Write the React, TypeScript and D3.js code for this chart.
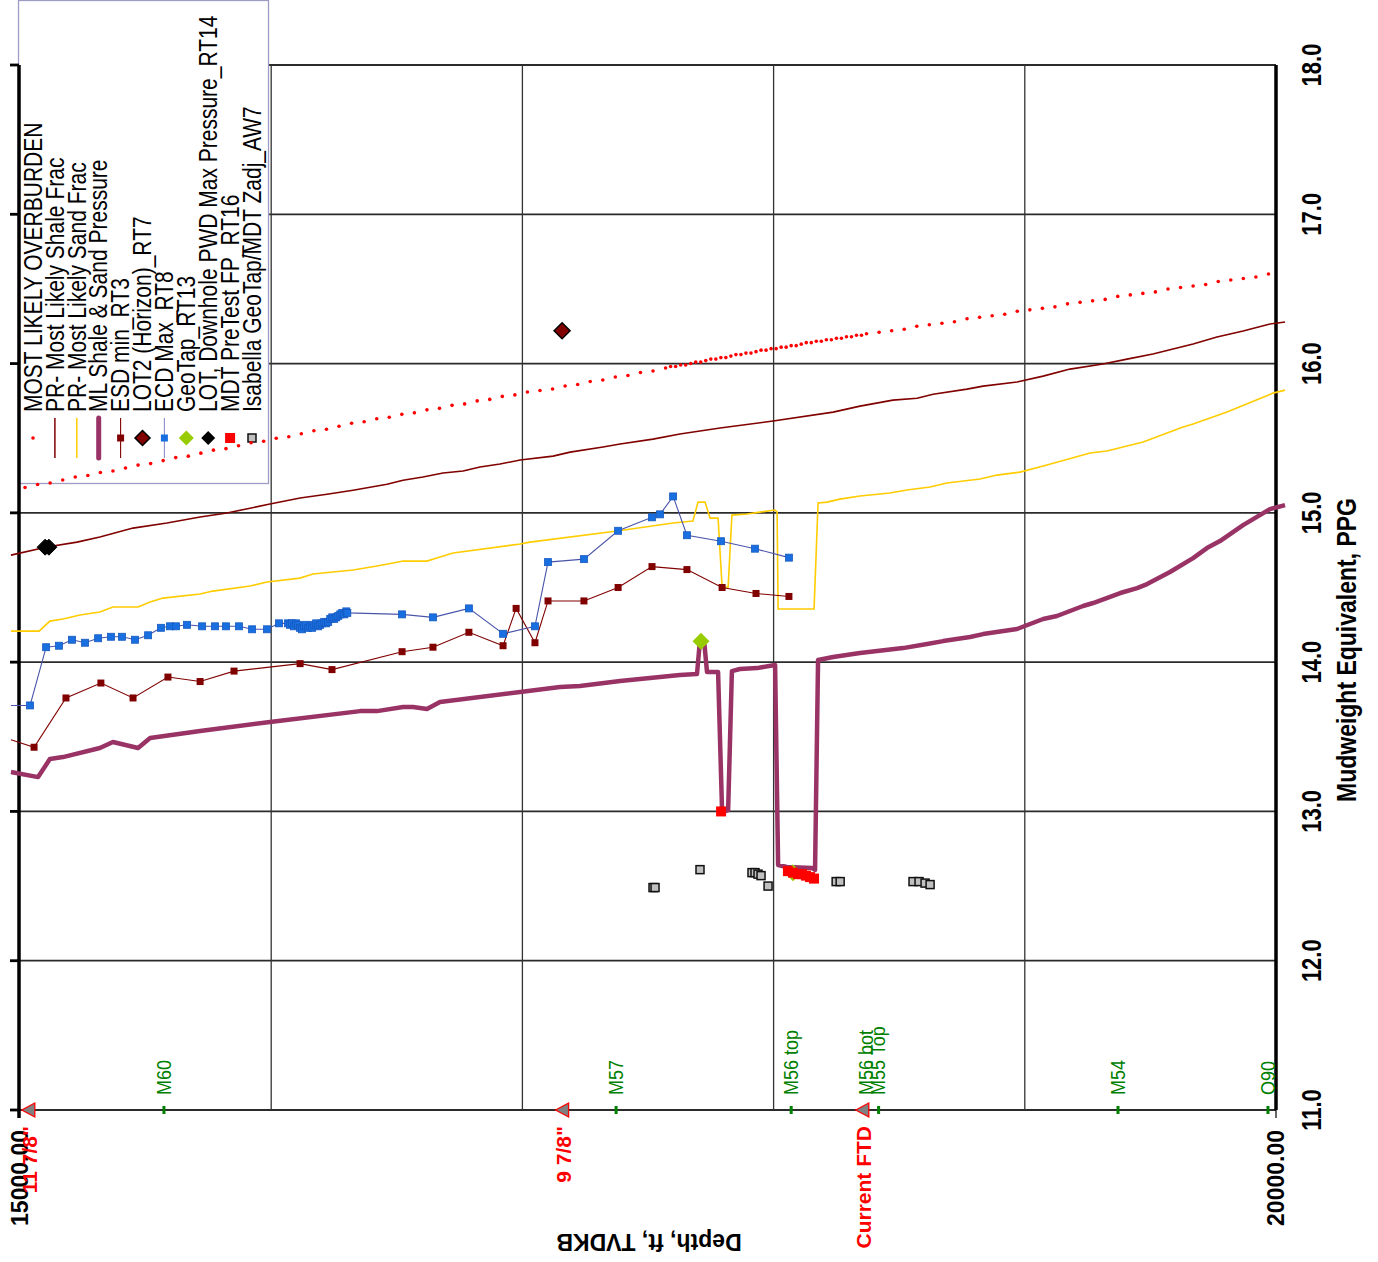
import React, { useEffect, useRef } from "react";
import * as d3 from "d3";

type Pt = [number, number]; // [depth ft TVDKB, mudweight ppg]

const ppgTicks = [11, 12, 13, 14, 15, 16, 17, 18];
const depthGrid = [15000, 16000, 17000, 18000, 19000, 20000];
const depthTickLabels = [15000, 20000];

const legendLabels = [
	"MOST LIKELY OVERBURDEN",
	"PR- Most Likely Shale Frac",
	"PR- Most Likely Sand Frac",
	"ML Shale & Sand Pressure",
	"ESD min_RT3",
	"LOT2 (Horizon)_RT7",
	"ECD Max_RT8",
	"GeoTap_RT13",
	"LOT, Downhole PWD Max Pressure_RT14",
	"MDT PreTest FP_RT16",
	"Isabella GeoTap/MDT Zadj_AW7",
];

const formationTops: [string, number][] = [
	["M60", 15573],
	["M57", 17373],
	["M56 top", 18070],
	["M56 bot", 18368],
	["M55 Top", 18418],
	["M54", 19371],
	["O90", 19968],
];

const casingPoints: [string, number][] = [
	['11 7/8"', 15035],
	['9 7/8"', 17160],
	["Current FTD", 18355],
];

const overburden: Pt[] = [
	[15020, 15.17], [15070, 15.19], [15120, 15.2], [15170, 15.22], [15220, 15.24], [15270, 15.25],
	[15320, 15.27], [15370, 15.28], [15420, 15.3], [15470, 15.32], [15520, 15.33], [15570, 15.35],
	[15620, 15.37], [15670, 15.38], [15720, 15.4], [15770, 15.42], [15820, 15.43], [15870, 15.45],
	[15920, 15.47], [15970, 15.48], [16020, 15.5], [16070, 15.51], [16120, 15.53], [16170, 15.55],
	[16220, 15.56], [16270, 15.58], [16320, 15.6], [16370, 15.61], [16420, 15.63], [16470, 15.64],
	[16520, 15.66], [16570, 15.67], [16620, 15.69], [16670, 15.7], [16720, 15.72], [16770, 15.73],
	[16820, 15.75], [16870, 15.76], [16920, 15.78], [16970, 15.79], [17020, 15.81], [17070, 15.82],
	[17120, 15.83], [17170, 15.85], [17220, 15.86], [17270, 15.88], [17320, 15.89], [17370, 15.91],
	[17420, 15.92], [17470, 15.94], [17520, 15.95],
	[17570, 15.97], [17590, 15.98], [17610, 15.98], [17630, 15.99], [17650, 15.99], [17670, 16.0],
	[17690, 16.01], [17710, 16.01], [17730, 16.02], [17750, 16.03], [17770, 16.03], [17790, 16.04],
	[17810, 16.04], [17830, 16.05], [17850, 16.06], [17870, 16.06], [17890, 16.07], [17910, 16.07],
	[17930, 16.08], [17950, 16.09], [17970, 16.09], [17990, 16.1], [18010, 16.1], [18030, 16.11],
	[18050, 16.11], [18070, 16.12], [18090, 16.12], [18110, 16.13], [18130, 16.14], [18150, 16.14],
	[18170, 16.15], [18190, 16.15], [18210, 16.16], [18230, 16.16], [18250, 16.17], [18270, 16.17],
	[18290, 16.18], [18310, 16.18], [18330, 16.19], [18350, 16.19], [18370, 16.2],
	[18420, 16.21], [18470, 16.22], [18520, 16.23], [18570, 16.25], [18620, 16.26], [18670, 16.27],
	[18720, 16.28], [18770, 16.3], [18820, 16.31], [18870, 16.32], [18920, 16.33], [18970, 16.35],
	[19020, 16.36], [19070, 16.37], [19120, 16.38], [19170, 16.4], [19220, 16.41], [19270, 16.42],
	[19320, 16.43], [19370, 16.45], [19420, 16.46], [19470, 16.47], [19520, 16.48], [19570, 16.5],
	[19620, 16.51], [19670, 16.52], [19720, 16.53], [19770, 16.55], [19820, 16.56], [19870, 16.57],
	[19920, 16.58], [19970, 16.6],
];

const shaleFrac: Pt[] = [
	[14964, 14.717], [15107, 14.771], [15227, 14.804], [15318, 14.838], [15450, 14.898], [15585, 14.932],
	[15717, 14.972], [15824, 14.999], [15995, 15.059], [16115, 15.099], [16222, 15.125], [16326, 15.152],
	[16461, 15.192], [16525, 15.219], [16604, 15.24], [16684, 15.267], [16764, 15.28], [16831, 15.307],
	[16911, 15.327], [16991, 15.354], [17122, 15.38], [17190, 15.407], [17321, 15.441], [17389, 15.461],
	[17520, 15.494], [17627, 15.528], [17787, 15.568], [17998, 15.615], [18237, 15.675], [18344, 15.715],
	[18475, 15.755], [18571, 15.768], [18635, 15.795], [18770, 15.829], [18834, 15.849], [18969, 15.876],
	[19073, 15.916], [19180, 15.963], [19311, 15.997], [19407, 16.03], [19510, 16.064], [19670, 16.131],
	[19765, 16.178], [19869, 16.218], [19976, 16.265], [20036, 16.278],
];

const sandFrac: Pt[] = [
	[14964, 14.208], [15076, 14.208], [15119, 14.275], [15171, 14.289], [15239, 14.316], [15318, 14.336],
	[15370, 14.369], [15470, 14.369], [15518, 14.403], [15569, 14.429], [15717, 14.456], [15768, 14.476],
	[15916, 14.51], [15983, 14.537], [16115, 14.563], [16166, 14.59], [16326, 14.617], [16421, 14.644],
	[16485, 14.664], [16525, 14.677], [16620, 14.677], [16672, 14.704], [16724, 14.731], [16991, 14.791],
	[17030, 14.804], [17377, 14.878], [17600, 14.932], [17679, 14.945], [17699, 15.072], [17727, 15.072],
	[17747, 14.965], [17779, 14.965], [17795, 14.503], [17819, 14.503], [17834, 14.985], [17894, 14.992],
	[17946, 15.005], [18006, 15.019], [18014, 15.005], [18018, 14.356], [18161, 14.356], [18177, 15.066],
	[18213, 15.072], [18264, 15.092], [18344, 15.113], [18463, 15.133], [18531, 15.153], [18623, 15.173],
	[18690, 15.2], [18822, 15.227], [18889, 15.253], [18981, 15.273], [19088, 15.32], [19260, 15.401],
	[19327, 15.414], [19471, 15.474], [19630, 15.575], [19670, 15.595], [19805, 15.675], [19988, 15.802],
	[20036, 15.822],
];

const mlPressure: Pt[] = [
	[14964, 13.264], [15072, 13.23], [15119, 13.351], [15171, 13.364], [15318, 13.425], [15370, 13.465],
	[15470, 13.425], [15518, 13.492], [15717, 13.539], [15995, 13.599], [16354, 13.672], [16421, 13.672],
	[16525, 13.699], [16565, 13.699], [16620, 13.686], [16672, 13.733], [16991, 13.8], [17150, 13.833],
	[17229, 13.84], [17389, 13.873], [17627, 13.914], [17695, 13.92], [17707, 14.148], [17723, 14.148],
	[17735, 13.934], [17779, 13.934], [17795, 12.996], [17819, 13.009], [17834, 13.94], [17866, 13.954],
	[17934, 13.96], [18006, 13.981], [18018, 12.641], [18053, 12.628], [18153, 12.621], [18165, 12.608],
	[18177, 14.014], [18237, 14.034], [18344, 14.061], [18515, 14.094], [18611, 14.121], [18675, 14.141],
	[18782, 14.168], [18834, 14.188], [18969, 14.222], [19073, 14.289], [19128, 14.309], [19232, 14.376],
	[19272, 14.396], [19380, 14.463], [19447, 14.496], [19487, 14.523], [19578, 14.604], [19670, 14.697],
	[19725, 14.764], [19777, 14.811], [19869, 14.918], [19976, 15.025], [20036, 15.052],
];

const esdMin: Pt[] = [
	[14964, 13.48], [15056, 13.43], [15183, 13.76], [15322, 13.86], [15450, 13.76], [15589, 13.9],
	[15717, 13.87], [15852, 13.94], [16115, 13.99], [16242, 13.95], [16521, 14.07], [16644, 14.1],
	[16787, 14.2], [16923, 14.11], [16975, 14.36], [17050, 14.13], [17102, 14.41], [17245, 14.41],
	[17381, 14.5], [17516, 14.64], [17655, 14.62], [17795, 14.5], [17930, 14.46], [18061, 14.44],
];

const ecdMax: Pt[] = [
	[14964, 13.71], [15040, 13.71], [15104, 14.1], [15155, 14.11], [15207, 14.15], [15259, 14.13],
	[15311, 14.16], [15362, 14.17], [15406, 14.17], [15458, 14.15], [15510, 14.18], [15561, 14.23],
	[15597, 14.24], [15621, 14.24], [15665, 14.25], [15725, 14.24], [15776, 14.24], [15820, 14.24],
	[15872, 14.24], [15924, 14.22], [15983, 14.22], [16031, 14.26],
	[16067, 14.26], [16075, 14.25], [16083, 14.26], [16091, 14.24], [16099, 14.26], [16107, 14.25],
	[16115, 14.23], [16123, 14.22], [16131, 14.24], [16139, 14.25], [16147, 14.23], [16155, 14.24],
	[16163, 14.23], [16171, 14.25], [16179, 14.26], [16187, 14.24], [16195, 14.25], [16203, 14.26],
	[16211, 14.27], [16219, 14.26], [16227, 14.27], [16235, 14.29], [16243, 14.3], [16251, 14.29],
	[16259, 14.3], [16267, 14.31], [16275, 14.32], [16283, 14.33], [16291, 14.32], [16299, 14.34],
	[16303, 14.33],
	[16521, 14.32], [16644, 14.3], [16787, 14.36], [16923, 14.19], [17050, 14.24], [17102, 14.67],
	[17245, 14.69], [17381, 14.88], [17516, 14.97], [17548, 14.99], [17600, 15.11], [17655, 14.85],
	[17791, 14.81], [17926, 14.76], [18061, 14.7],
];

const lot2Horizon: Pt[] = [[17158, 16.22]];
const geoTap: Pt[] = [[17711, 14.14], [18077, 12.59]];
const lotPwd: Pt[] = [[15100, 14.77], [15115, 14.77]];
const mdtPretest: Pt[] = [
	[17791, 13.0], [18057, 12.6], [18077, 12.59], [18097, 12.58], [18113, 12.58],
	[18129, 12.57], [18145, 12.56], [18161, 12.55],
];
const isabellaZadj: Pt[] = [
	[17520, 12.49], [17528, 12.49], [17707, 12.61], [17914, 12.59], [17926, 12.59], [17938, 12.58],
	[17950, 12.57], [17978, 12.5], [18249, 12.53], [18265, 12.53], [18555, 12.53], [18579, 12.53],
	[18603, 12.52], [18623, 12.51],
];

const FONT = "Arial, 'Liberation Sans', sans-serif";
const C = {
	overburden: "#ff0000",
	shale: "#800000",
	sand: "#ffcc00",
	ml: "#993366",
	esd: "#800000",
	ecdLine: "#4a55aa",
	ecdMark: "#1a6fe0",
	geo: "#99cc00",
	mdt: "#ff0000",
	isa: "#c0c0c0",
	green: "#008000",
	red: "#ff0000",
};

const diamond = (cx: number, cy: number, s: number) =>
	`M${cx},${cy - s}L${cx + s},${cy}L${cx},${cy + s}L${cx - s},${cy}Z`;

const App = () => {
	const ref = useRef<SVGSVGElement>(null);

	useEffect(() => {
		const svg = d3.select(ref.current);
		svg.selectAll("*").remove();

		const x = d3.scaleLinear().domain([15000, 20000]).range([20, 1276]);
		const y = d3.scaleLinear().domain([11, 18]).range([1110, 65]);

		// rotated text helper (reads bottom to top)
		const vText = (
			g: any, px: number, py: number, t: string, size: number,
			weight: string, color: string, anchor: string, stretch: number
		) =>
			g.append("text")
				.attr("transform", `translate(${px},${py}) rotate(-90) scale(1,${stretch})`)
				.attr("dy", "0.35em")
				.attr("text-anchor", anchor)
				.attr("font-family", FONT)
				.attr("font-size", size)
				.attr("font-weight", weight)
				.attr("fill", color)
				.text(t);

		// grid
		const grid = svg.append("g");
		grid.append("g").selectAll("line").data(ppgTicks).join("line")
			.attr("x1", x(15000)).attr("x2", x(20000))
			.attr("y1", (d) => y(d)).attr("y2", (d) => y(d))
			.attr("stroke", "#2b2b2b").attr("stroke-width", 1.8);
		grid.append("g").selectAll("line").data(depthGrid.slice(1, -1)).join("line")
			.attr("x1", (d) => x(d)).attr("x2", (d) => x(d))
			.attr("y1", y(18)).attr("y2", y(11))
			.attr("stroke", "#333").attr("stroke-width", 1.3);

		// legend box (drawn before series, the overburden dots sit on top)
		const leg = svg.append("g");
		leg.append("rect")
			.attr("x", 18.5).attr("y", 0.5).attr("width", 250).attr("height", 483)
			.attr("fill", "#fff").attr("stroke", "#9c9cc4").attr("stroke-width", 1.3);

		// axes
		const ax = svg.append("g");
		ax.append("line").attr("x1", 19).attr("x2", 19).attr("y1", y(18)).attr("y2", 1118)
			.attr("stroke", "#000").attr("stroke-width", 3.5);
		ax.append("line").attr("x1", 1276).attr("x2", 1276).attr("y1", y(18)).attr("y2", y(11))
			.attr("stroke", "#000").attr("stroke-width", 3.5);
		ax.append("line").attr("x1", 1276).attr("x2", 1276).attr("y1", y(11)).attr("y2", 1118)
			.attr("stroke", "#000").attr("stroke-width", 1.2);
		ax.selectAll("line.tk").data(ppgTicks).join("line")
			.attr("class", "tk")
			.attr("x1", 10).attr("x2", 19)
			.attr("y1", (d) => y(d)).attr("y2", (d) => y(d))
			.attr("stroke", "#000").attr("stroke-width", 2.8);

		ppgTicks.forEach((t) =>
			vText(ax, 1311, y(t), t.toFixed(1), 22, "bold", "#000", "middle", 1.27)
		);
		vText(ax, 1346, 650, "Mudweight Equivalent, PPG", 23, "bold", "#000", "middle", 1.2);
		depthTickLabels.forEach((d) =>
			vText(ax, x(d), 1130, d.toFixed(2), 23, "bold", "#000", "end", 1)
		);
		ax.append("text")
			.attr("transform", "translate(649,1242) rotate(180)")
			.attr("dy", "0.35em").attr("text-anchor", "middle")
			.attr("font-family", FONT).attr("font-size", 23).attr("font-weight", "bold")
			.text("Depth, ft, TVDKB");

		// formation tops
		const tops = svg.append("g");
		formationTops.forEach(([name, d]) => {
			tops.append("rect").attr("x", x(d) - 1.5).attr("y", 1106).attr("width", 3).attr("height", 8)
				.attr("fill", C.green);
			vText(tops, x(d), 1095, name, 18, "normal", C.green, "start", 1.08);
		});

		const line = d3.line<Pt>().x((d) => x(d[0])).y((d) => y(d[1]));
		const inPlot = (d: Pt) => d[0] >= 15000;

		// series lines
		const s = svg.append("g");
		s.append("path").datum(sandFrac).attr("d", line)
			.attr("fill", "none").attr("stroke", C.sand).attr("stroke-width", 1.6);
		s.append("path").datum(shaleFrac).attr("d", line)
			.attr("fill", "none").attr("stroke", C.shale).attr("stroke-width", 1.6);
		s.append("path").datum(mlPressure).attr("d", line)
			.attr("fill", "none").attr("stroke", C.ml).attr("stroke-width", 4.5)
			.attr("stroke-linejoin", "round");

		s.append("path").datum(esdMin).attr("d", line)
			.attr("fill", "none").attr("stroke", C.esd).attr("stroke-width", 1.1);
		s.append("g").selectAll("rect").data(esdMin.filter(inPlot)).join("rect")
			.attr("x", (d) => x(d[0]) - 3.5).attr("y", (d) => y(d[1]) - 3.5)
			.attr("width", 7).attr("height", 7).attr("fill", C.esd);

		s.append("path").datum(ecdMax).attr("d", line)
			.attr("fill", "none").attr("stroke", C.ecdLine).attr("stroke-width", 1.1);
		s.append("g").selectAll("rect").data(ecdMax.filter(inPlot)).join("rect")
			.attr("x", (d) => x(d[0]) - 3.5).attr("y", (d) => y(d[1]) - 3.5)
			.attr("width", 7).attr("height", 7).attr("fill", C.ecdMark)
			.attr("stroke", "#1559c0").attr("stroke-width", 0.8);

		s.append("g").selectAll("circle").data(overburden).join("circle")
			.attr("cx", (d) => x(d[0])).attr("cy", (d) => y(d[1])).attr("r", 1.8)
			.attr("fill", C.overburden);

		s.append("g").selectAll("path").data(lot2Horizon).join("path")
			.attr("d", (d) => diamond(x(d[0]), y(d[1]), 8))
			.attr("fill", C.shale).attr("stroke", "#000").attr("stroke-width", 1.5);
		s.append("g").selectAll("path").data(geoTap).join("path")
			.attr("d", (d) => diamond(x(d[0]), y(d[1]), 8.5))
			.attr("fill", C.geo);
		s.append("g").selectAll("path").data(lotPwd).join("path")
			.attr("d", (d) => diamond(x(d[0]), y(d[1]), 8))
			.attr("fill", "#000").attr("stroke", "#000").attr("stroke-width", 1);
		s.append("g").selectAll("rect").data(mdtPretest).join("rect")
			.attr("x", (d) => x(d[0]) - 5).attr("y", (d) => y(d[1]) - 5)
			.attr("width", 10).attr("height", 10).attr("fill", C.mdt);
		s.append("g").selectAll("rect").data(isabellaZadj).join("rect")
			.attr("x", (d) => x(d[0]) - 4).attr("y", (d) => y(d[1]) - 4)
			.attr("width", 8).attr("height", 8).attr("fill", C.isa)
			.attr("stroke", "#111").attr("stroke-width", 1.5);

		// casing points
		const cas = svg.append("g");
		casingPoints.forEach(([name, d]) => {
			const cx = x(d);
			cas.append("path")
				.attr("d", `M${cx - 7},1110L${cx + 6},${1110 - 7}L${cx + 6},${1110 + 7}Z`)
				.attr("fill", "#808080").attr("stroke", C.red).attr("stroke-width", 1.3);
			vText(cas, cx + 1, 1126, name, 21, "bold", C.red, "end", 1);
		});

		// legend content
		const colX = (i: number) => 33 + i * 21.9;
		const sy = 438;
		legendLabels.forEach((t, i) => vText(leg, colX(i), 412, t, 21, "normal", "#000", "start", 1.19));
		const vline = (i: number, color: string, w: number) =>
			leg.append("line").attr("x1", colX(i)).attr("x2", colX(i)).attr("y1", 418).attr("y2", 458)
				.attr("stroke", color).attr("stroke-width", w);
		leg.append("circle").attr("cx", colX(0)).attr("cy", sy).attr("r", 1.8).attr("fill", C.overburden);
		vline(1, C.shale, 1.5);
		vline(2, C.sand, 1.5);
		vline(3, C.ml, 5).attr("stroke-linecap", "round");
		vline(4, C.esd, 1.1);
		leg.append("rect").attr("x", colX(4) - 3.5).attr("y", sy - 3.5).attr("width", 7).attr("height", 7).attr("fill", C.esd);
		leg.append("path").attr("d", diamond(colX(5), sy, 7.5)).attr("fill", C.shale).attr("stroke", "#000").attr("stroke-width", 1.5);
		vline(6, "#8a90c8", 1.1);
		leg.append("rect").attr("x", colX(6) - 3.5).attr("y", sy - 3.5).attr("width", 7).attr("height", 7).attr("fill", C.ecdMark);
		leg.append("path").attr("d", diamond(colX(7), sy, 7.5)).attr("fill", C.geo);
		leg.append("path").attr("d", diamond(colX(8), sy, 7)).attr("fill", "#000");
		leg.append("rect").attr("x", colX(9) - 5).attr("y", sy - 5).attr("width", 10).attr("height", 10).attr("fill", C.mdt);
		leg.append("rect").attr("x", colX(10) - 4).attr("y", sy - 4).attr("width", 8).attr("height", 8)
			.attr("fill", C.isa).attr("stroke", "#111").attr("stroke-width", 1.5);
	}, []);

	return (
		<svg
			ref={ref}
			width={1378}
			height={1262}
			style={{ position: "absolute", left: 0, top: 0, background: "#fff" }}
		/>
	);
};

export default App;
